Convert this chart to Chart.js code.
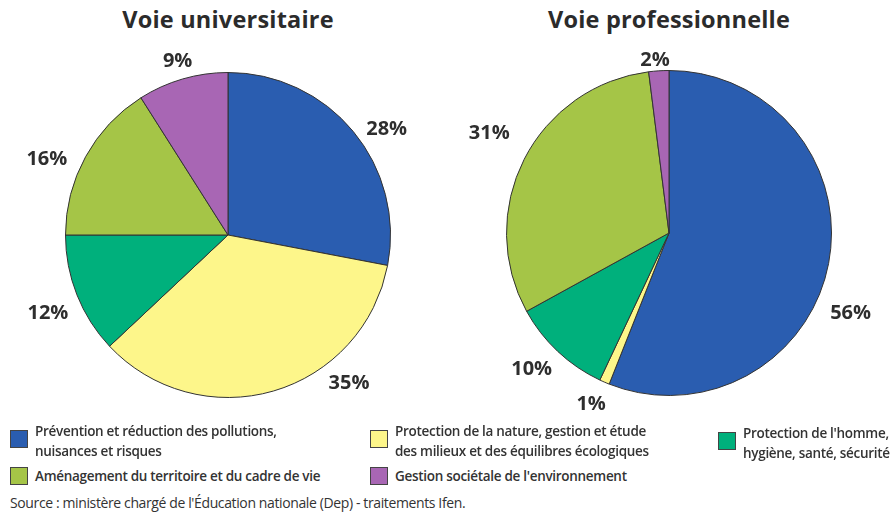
<!DOCTYPE html>
<html>
<head>
<meta charset="utf-8">
<script src="https://cdn.jsdelivr.net/npm/chart.js@4"></script>
<style>
  body { margin: 0; background: #fff; font-family: "Open Sans", sans-serif; color: #333; }
  #wrap { position: relative; width: 890px; height: 512px; overflow: hidden; }
  canvas { position: absolute; }
  .title { position: absolute; top: 3px; font-weight: bold; font-size: 23.5px; letter-spacing: 0.2px; color: #2b2b2b; text-align: center; width: 400px; }
  .leg { position: absolute; font-size: 13.5px; font-weight: 600; line-height: 20px; color: #333; letter-spacing: -0.3px; white-space: nowrap; }
  .box { position: absolute; width: 16px; height: 16px; border: 1px solid #444; }
  #source { position: absolute; left: 10px; top: 493px; font-size: 14px; color: #333; letter-spacing: -0.38px; white-space: nowrap; }
</style>
</head>
<body>
<div id="wrap">
  <div class="title" style="left:28px">Voie universitaire</div>
  <div class="title" style="left:469px">Voie professionnelle</div>
  <canvas id="left" width="440" height="440" style="left:8px;top:15px"></canvas>
  <canvas id="right" width="440" height="440" style="left:449px;top:13px"></canvas>
  <div id="legend"></div>
  <div id="source">Source : ministère chargé de l'Éducation nationale (Dep) - traitements Ifen.</div>
</div>
<script>
// categories, in drawing order (clockwise from 12 o'clock)
const categories = [
  "Prévention et réduction des pollutions, nuisances et risques",
  "Protection de la nature, gestion et étude des milieux et des équilibres écologiques",
  "Protection de l'homme, hygiène, santé, sécurité",
  "Aménagement du territoire et du cadre de vie",
  "Gestion sociétale de l'environnement"
];
const universitaire = [28, 35, 12, 16, 9];
const professionnelle = [56, 1, 10, 31, 2];
const colors = ['#2a5db0', '#fdf68a', '#00b07c', '#a5c547', '#a866b4'];

// label placement tweaks: angle shift (degrees) and distance beyond the rim
const shiftLeft = [6, -23, -2, -6, 0];
const distLeft = [28, 29, 34, 34, 18];
const shiftRight = [13, 1, 2, 2, -1];
const distRight = [36, 26, 31, 43, 11];

const outLabels = {
  id: 'outLabels',
  afterDatasetsDraw(chart, args, opts) {
    const ctx = chart.ctx;
    const meta = chart.getDatasetMeta(0);
    const data = chart.data.datasets[0].data;
    ctx.save();
    ctx.font = 'bold 20px "Open Sans"';
    ctx.fillStyle = '#2e2e2e';
    ctx.textAlign = 'center';
    ctx.textBaseline = 'middle';
    meta.data.forEach((arc, i) => {
      const p = arc.getProps(['x', 'y', 'startAngle', 'endAngle', 'outerRadius'], true);
      const a = (p.startAngle + p.endAngle) / 2 + opts.shift[i] * Math.PI / 180;
      const r = p.outerRadius + opts.dist[i];
      ctx.fillText(data[i] + '%', p.x + Math.cos(a) * r, p.y + Math.sin(a) * r);
    });
    ctx.restore();
  }
};

function makePie(id, values, shift, dist) {
  new Chart(document.getElementById(id), {
    type: 'pie',
    data: {
      labels: categories,
      datasets: [{
        data: values,
        backgroundColor: colors,
        borderColor: '#333',
        borderWidth: 1
      }]
    },
    options: {
      responsive: false,
      animation: false,
      layout: { padding: 57 },
      plugins: {
        legend: { display: false },
        tooltip: { enabled: false },
        outLabels: { shift: shift, dist: dist }
      }
    },
    plugins: [outLabels]
  });
}

makePie('left', universitaire, shiftLeft, distLeft);
makePie('right', professionnelle, shiftRight, distRight);

// legend, laid out like the original
const legendPos = [
  { x: 10, y: 430, lines: ["Prévention et réduction des pollutions,", "nuisances et risques"] },
  { x: 370, y: 430, lines: ["Protection de la nature, gestion et étude", "des milieux et des équilibres écologiques"] },
  { x: 718, y: 432, lines: ["Protection de l'homme,", "hygiène, santé, sécurité"] },
  { x: 10, y: 467, lines: ["Aménagement du territoire et du cadre de vie"] },
  { x: 370, y: 467, lines: ["Gestion sociétale de l'environnement"] }
];
const leg = document.getElementById('legend');
legendPos.forEach((l, i) => {
  const b = document.createElement('div');
  b.className = 'box';
  b.style.left = l.x + 'px';
  b.style.top = l.y + 'px';
  b.style.background = colors[i];
  leg.appendChild(b);
  const t = document.createElement('div');
  t.className = 'leg';
  t.style.left = (l.x + 25) + 'px';
  t.style.top = (l.lines.length > 1 ? l.y - 9 : l.y - 1) + 'px';
  t.innerHTML = l.lines.join('<br>');
  leg.appendChild(t);
});
</script>
</body>
</html>
